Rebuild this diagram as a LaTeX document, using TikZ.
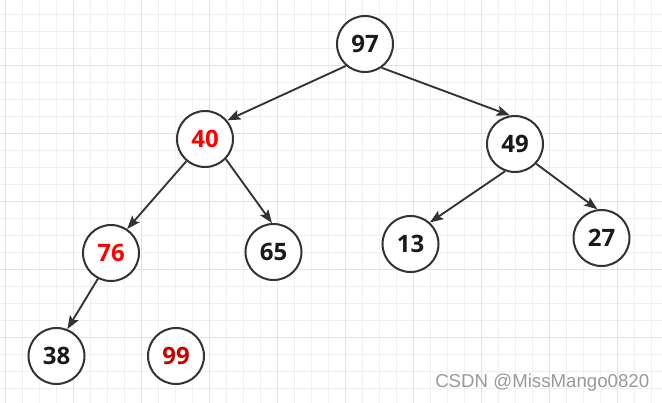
\documentclass[tikz,border=0pt]{standalone}
\usepackage{fontspec}
\setmainfont{Open Sans}
\newfontfamily\wmfont{Liberation Sans}
\usetikzlibrary{arrows.meta}
\definecolor{gminor}{HTML}{F0F0F0}
\definecolor{gmajor}{HTML}{E2E2E2}
\definecolor{edgec}{HTML}{333333}
\definecolor{txtc}{HTML}{1A1A1A}
\definecolor{redA}{HTML}{FF0000}
\definecolor{redB}{HTML}{CC0000}
\definecolor{wmc}{HTML}{9A9A9A}
\tikzset{
  heapnode/.style={circle, draw=edgec, line width=1.5pt, fill=white, minimum size=42pt, inner sep=0pt,
    font=\fontsize{18}{20}\selectfont\bfseries, text=txtc},
  rednode/.style={heapnode, text=redA},
  darkred/.style={heapnode, text=redB},
  conn/.style={draw=edgec, line width=1.4pt, -{Stealth[length=10pt,width=7.5pt,inset=2pt]}},
  gridminor/.style={draw=gminor, line width=0.75pt},
  gridmajor/.style={draw=gmajor, line width=0.75pt}
}
\begin{document}
\begin{tikzpicture}[x=0.75pt, y=-0.75pt]
\fill[white] (0,0) rectangle (662,403);
\useasboundingbox (0,0) rectangle (662,403);
% grid
\foreach \i in {0,...,38} {\draw[gridminor] ({5+17*\i},0) -- ({5+17*\i},403);}
\foreach \j in {0,...,24} {\draw[gridminor] (0,{-2.7+17*\j}) -- (662,{-2.7+17*\j});}
\foreach \i in {0,...,9} {\draw[gridmajor] ({5+68*\i},0) -- ({5+68*\i},403);}
\foreach \j in {1,...,6} {\draw[gridmajor] (0,{-2.7+68*\j}) -- (662,{-2.7+68*\j});}
% nodes
\node[heapnode] (n97) at (365,44) {97};
\node[rednode]  (n40) at (205,139) {40};
\node[heapnode] (n49) at (515,144) {49};
\node[rednode]  (n76) at (111,253) {76};
\node[heapnode] (n65) at (273.5,252) {65};
\node[heapnode] (n13) at (410.5,244) {13};
\node[heapnode] (n27) at (601.5,238) {27};
\node[heapnode] (n38) at (56.5,356) {38};
\node[darkred]  (n99) at (176,356) {99};
% edges
\draw[conn] (n97.229) -- (n40.40);
\draw[conn] (n97.305) -- (n49.100);
\draw[conn] (n40.230) -- (n76.56);
\draw[conn] (n40.316) -- (n65.93);
\draw[conn] (n49.250) -- (n13.48);
\draw[conn] (n49.317) -- (n27.98);
\draw[conn] (n76.243) -- (n38.68);
% watermark
\node[anchor=west, inner sep=0pt, text=wmc, font=\wmfont\fontsize{14}{16}\selectfont] (wm) at (435,383) {CSDN @MissMango0820};
\end{tikzpicture}
\end{document}
